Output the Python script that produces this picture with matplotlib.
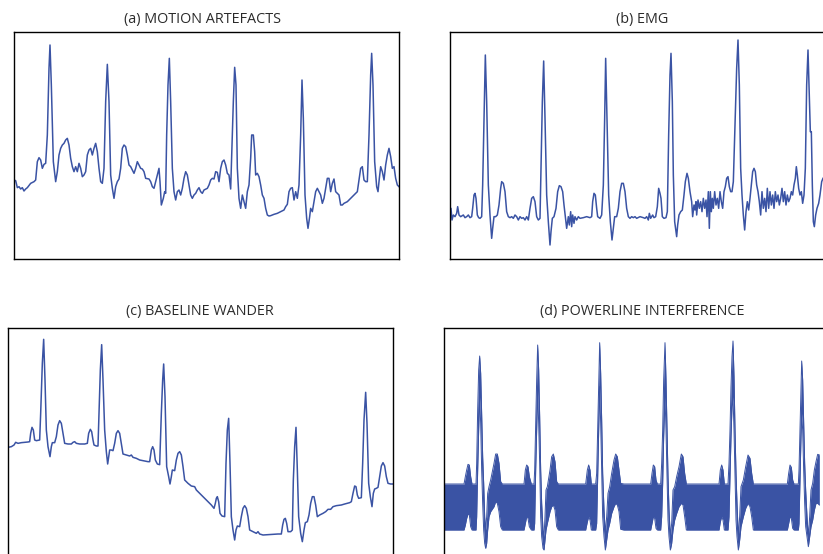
import matplotlib.pyplot as plt
import numpy as np

# traces: (sample, amplitude), arbitrary units
motion_pts = [
    (0, 237), (5, 235), (10, 214), (15, 217), (20, 210), (25, 214), (30, 204), (35, 210), (40, 214),
    (50, 227), (60, 232), (65, 237), (70, 292), (75, 304), (80, 297), (85, 272), (90, 284), (95, 287),
    (100, 372), (105, 572), (108, 642), (112, 522), (118, 292), (125, 232), (130, 262), (135, 312),
    (140, 332), (145, 342), (150, 347), (155, 357), (160, 362), (165, 342), (170, 302), (175, 277),
    (180, 262), (185, 277), (190, 262), (195, 287), (200, 272), (205, 247), (210, 252), (215, 262),
    (220, 312), (225, 327), (230, 332), (235, 312), (240, 332), (245, 347), (250, 322), (255, 272),
    (260, 232), (265, 227), (270, 272), (275, 472), (280, 584), (285, 472), (290, 252), (295, 212),
    (300, 182), (305, 217), (310, 232), (315, 240), (320, 272), (325, 332), (330, 342), (335, 337),
    (340, 312), (345, 282), (350, 277), (355, 267), (360, 257), (365, 272), (370, 292), (375, 282),
    (380, 272), (385, 270), (390, 262), (395, 242), (405, 240), (410, 232), (415, 217), (420, 212),
    (425, 232), (430, 252), (435, 272), (438, 232), (442, 162), (448, 182), (452, 202), (455, 197),
    (458, 372), (462, 522), (466, 602), (470, 472), (475, 272), (480, 202), (485, 177), (490, 202),
    (495, 207), (500, 192), (505, 212), (510, 242), (515, 262), (520, 252), (525, 222), (530, 192),
    (535, 182), (540, 192), (545, 197), (550, 207), (555, 214), (560, 202), (565, 197), (570, 207),
    (580, 212), (585, 222), (590, 237), (595, 242), (600, 240), (605, 262), (610, 260), (615, 232),
    (620, 272), (625, 292), (630, 297), (635, 282), (640, 257), (645, 252), (650, 210), (655, 372),
    (658, 472), (662, 575), (666, 522), (670, 272), (675, 182), (680, 152), (685, 192), (690, 172),
    (695, 152), (700, 202), (705, 222), (710, 302), (713, 372), (718, 372), (722, 322), (725, 252),
    (730, 257), (735, 247), (740, 222), (745, 192), (750, 182), (755, 152), (760, 132), (765, 129),
    (770, 130), (780, 134), (790, 137), (800, 142), (810, 147), (815, 157), (820, 164), (825, 202),
    (830, 212), (835, 214), (840, 177), (845, 202), (850, 182), (855, 222), (860, 372), (864, 537),
    (868, 422), (873, 192), (878, 122), (882, 92), (887, 127), (890, 152), (895, 142), (900, 172),
    (905, 202), (910, 212), (915, 202), (920, 192), (925, 167), (930, 182), (935, 212), (940, 242),
    (945, 242), (950, 202), (955, 227), (960, 240), (965, 202), (970, 197), (975, 192), (980, 162),
    (985, 162), (990, 167), (1000, 172), (1010, 182), (1020, 192), (1030, 202), (1035, 237),
    (1040, 272), (1045, 277), (1050, 237), (1055, 232), (1060, 232), (1065, 372), (1070, 552),
    (1073, 617), (1077, 522), (1082, 292), (1088, 217), (1092, 202), (1096, 242), (1100, 277),
    (1105, 262), (1110, 237), (1115, 282), (1120, 312), (1125, 332), (1130, 307), (1135, 272),
    (1140, 277), (1145, 242), (1150, 222), (1155, 217),
]

emg_pts = [
    (0, 132), (3, 152), (6, 117), (10, 132), (15, 127), (20, 137), (23, 157), (27, 132), (32, 127),
    (40, 132), (45, 124), (50, 127), (55, 132), (60, 124), (65, 127), (68, 152), (72, 192), (75, 197),
    (78, 182), (82, 132), (86, 124), (90, 122), (95, 127), (98, 222), (102, 422), (106, 612),
    (110, 472), (115, 222), (120, 132), (125, 62), (128, 92), (132, 127), (137, 127), (142, 132),
    (147, 162), (152, 212), (155, 232), (160, 227), (165, 202), (170, 142), (175, 127), (180, 124),
    (185, 127), (190, 122), (195, 132), (200, 127), (205, 117), (210, 127), (215, 122), (220, 124),
    (225, 117), (230, 127), (235, 117), (240, 152), (245, 182), (250, 187), (255, 172), (260, 127),
    (265, 117), (270, 122), (273, 272), (277, 472), (281, 594), (285, 422), (290, 192), (295, 112),
    (300, 42), (303, 82), (307, 122), (312, 127), (318, 152), (323, 202), (328, 220), (333, 217),
    (338, 202), (342, 162), (347, 117), (350, 92), (355, 127), (358, 102), (362, 142), (365, 97),
    (368, 132), (372, 107), (375, 127), (380, 117), (385, 127), (390, 122), (400, 124), (410, 127),
    (420, 124), (425, 127), (428, 172), (432, 197), (436, 192), (440, 152), (443, 127), (450, 122),
    (455, 132), (460, 222), (464, 422), (467, 602), (471, 422), (476, 192), (481, 112), (486, 57),
    (490, 92), (494, 127), (500, 127), (505, 152), (510, 202), (515, 227), (520, 227), (525, 202),
    (530, 152), (535, 127), (540, 122), (545, 127), (550, 124), (555, 127), (560, 122), (570, 127),
    (580, 124), (585, 122), (590, 127), (595, 117), (598, 137), (602, 122), (608, 132), (612, 124),
    (617, 127), (622, 157), (626, 212), (630, 197), (633, 182), (637, 127), (642, 122), (648, 124),
    (652, 142), (656, 372), (660, 552), (663, 617), (667, 472), (670, 252), (674, 112), (680, 67),
    (683, 102), (687, 132), (692, 142), (697, 147), (702, 192), (706, 232), (711, 257), (715, 242),
    (720, 202), (725, 172), (728, 127), (732, 162), (735, 147), (738, 172), (740, 132), (744, 177),
    (748, 152), (752, 172), (756, 142), (760, 182), (764, 152), (768, 177), (771, 127), (775, 202),
    (778, 92), (781, 202), (784, 142), (787, 182), (790, 152), (794, 202), (798, 162), (802, 182),
    (806, 152), (810, 202), (814, 172), (818, 152), (822, 202), (826, 217), (830, 242), (834, 247),
    (838, 217), (842, 202), (846, 202), (850, 232), (854, 372), (860, 572), (864, 657), (868, 522),
    (872, 272), (876, 192), (880, 132), (884, 87), (888, 142), (892, 172), (896, 147), (900, 182),
    (904, 222), (908, 262), (912, 272), (916, 262), (920, 222), (924, 202), (928, 172), (932, 132),
    (936, 202), (940, 152), (944, 182), (948, 142), (952, 212), (956, 152), (960, 202), (964, 162),
    (968, 192), (972, 152), (976, 202), (980, 172), (984, 192), (988, 162), (992, 182), (996, 212),
    (1000, 172), (1004, 202), (1008, 162), (1012, 192), (1016, 172), (1020, 182), (1024, 202),
    (1028, 192), (1032, 222), (1036, 242), (1039, 277), (1042, 252), (1046, 212), (1050, 192),
    (1054, 202), (1058, 167), (1062, 192), (1066, 272), (1070, 522), (1074, 627), (1077, 522),
    (1081, 382), (1084, 382), (1087, 222), (1090, 112), (1093, 97), (1097, 132), (1101, 152),
    (1106, 167), (1110, 192), (1115, 232), (1119, 242),
]

wander_pts = [
    (0, 323), (10, 325), (18, 330), (23, 338), (30, 335), (40, 337), (50, 338), (60, 339), (65, 340),
    (68, 365), (72, 383), (76, 375), (80, 345), (85, 343), (95, 345), (98, 425), (103, 575), (107, 647),
    (111, 525), (115, 375), (120, 325), (126, 295), (130, 325), (133, 337), (140, 337), (145, 355),
    (150, 390), (155, 403), (160, 395), (165, 365), (170, 335), (180, 333), (190, 333), (195, 338),
    (200, 340), (205, 335), (215, 333), (230, 333), (238, 335), (242, 365), (247, 377), (251, 370),
    (255, 345), (258, 330), (265, 327), (270, 327), (273, 425), (277, 555), (281, 631), (285, 525),
    (290, 375), (295, 310), (299, 273), (302, 295), (305, 315), (310, 315), (315, 313), (320, 335),
    (325, 365), (330, 373), (335, 365), (340, 335), (345, 303), (355, 300), (365, 297), (370, 300),
    (375, 293), (385, 290), (395, 285), (410, 282), (420, 280), (425, 280), (430, 315), (434, 325),
    (438, 315), (442, 285), (448, 273), (455, 271), (460, 425), (464, 525), (467, 573), (471, 475),
    (476, 265), (482, 235), (486, 213), (490, 235), (493, 255), (500, 253), (505, 285), (510, 305),
    (515, 310), (520, 300), (525, 265), (530, 225), (540, 215), (550, 207), (560, 205), (565, 195),
    (575, 185), (580, 180), (590, 170), (600, 160), (610, 150), (618, 140), (622, 155), (625, 170),
    (628, 175), (632, 160), (636, 125), (642, 117), (650, 115), (654, 275), (658, 375), (662, 410),
    (666, 275), (670, 115), (675, 75), (680, 45), (684, 75), (688, 87), (695, 85), (700, 115),
    (705, 140), (710, 148), (715, 140), (720, 115), (725, 75), (735, 70), (745, 65), (750, 70),
    (755, 63), (765, 60), (780, 61), (795, 62), (810, 63), (820, 63), (824, 90), (828, 107),
    (832, 110), (836, 95), (840, 70), (848, 70), (853, 75), (856, 225), (860, 325), (864, 383),
    (868, 255), (872, 115), (878, 65), (883, 40), (888, 75), (892, 97), (898, 100), (903, 120),
    (908, 155), (913, 175), (918, 175), (923, 150), (928, 115), (935, 120), (945, 125), (953, 130),
    (960, 137), (968, 137), (975, 145), (985, 148), (1000, 150), (1010, 153), (1025, 157),
    (1030, 160), (1035, 185), (1040, 207), (1044, 205), (1048, 180), (1052, 170), (1060, 172),
    (1064, 275), (1068, 405), (1073, 488), (1077, 395), (1082, 215), (1087, 175), (1092, 145),
    (1096, 185), (1100, 198), (1105, 200), (1110, 203), (1115, 235), (1120, 267), (1125, 277),
    (1130, 267), (1135, 235), (1140, 215), (1148, 213), (1155, 213),
]

# powerline: the 50 Hz hum fills a band, so keep its (sample, upper, lower) envelope
powerline_pts = [
    (0, 213, 75), (60, 213, 75), (64, 235, 90), (68, 255, 110), (72, 272, 123), (76, 270, 120),
    (80, 235, 85), (84, 213, 75), (96, 213, 75), (98, 275, 115), (101, 435, 255), (104, 555, 375),
    (107, 597, 475), (110, 545, 395), (113, 425, 255), (116, 295, 155), (119, 215, 75), (122, 115, 35),
    (125, 75, 20), (128, 115, 35), (131, 185, 75), (135, 205, 115), (140, 225, 130), (150, 275, 145),
    (155, 303, 160), (160, 303, 155), (165, 275, 130), (170, 220, 85), (175, 213, 75), (240, 213, 75),
    (244, 255, 95), (248, 270, 115), (252, 265, 110), (256, 235, 85), (262, 213, 75), (270, 213, 75),
    (272, 255, 95), (275, 395, 255), (278, 525, 375), (281, 630, 495), (284, 555, 395), (287, 415, 275),
    (290, 255, 115), (293, 155, 55), (297, 75, 20), (300, 55, 15), (303, 115, 45), (306, 195, 75),
    (310, 205, 95), (318, 255, 130), (323, 295, 145), (328, 303, 150), (333, 280, 135), (338, 220, 85),
    (343, 213, 75), (425, 213, 75), (430, 255, 100), (434, 270, 115), (438, 255, 105), (442, 213, 75),
    (455, 213, 75), (458, 245, 95), (461, 375, 235), (464, 515, 375), (467, 637, 505), (470, 545, 395),
    (473, 405, 255), (476, 245, 115), (480, 135, 55), (484, 65, 15), (488, 115, 45), (492, 185, 75),
    (497, 205, 95), (503, 245, 125), (510, 285, 145), (515, 303, 155), (520, 295, 150), (525, 255, 130),
    (530, 215, 77), (540, 213, 75), (620, 213, 75), (624, 245, 95), (628, 270, 115), (632, 265, 110),
    (636, 225, 80), (640, 213, 75), (650, 213, 75), (653, 275, 115), (656, 375, 215), (659, 525, 355),
    (663, 637, 475), (666, 525, 375), (669, 375, 235), (672, 235, 105), (675, 135, 55), (679, 55, 15),
    (683, 95, 35), (687, 195, 75), (692, 205, 105), (698, 235, 125), (705, 265, 145), (712, 303, 155),
    (717, 295, 150), (722, 245, 115), (727, 213, 75), (825, 213, 75), (829, 255, 100), (833, 270, 115),
    (837, 255, 105), (841, 213, 75), (852, 213, 75), (855, 275, 115), (858, 375, 235), (861, 505, 355),
    (864, 595, 445), (867, 642, 475), (870, 535, 375), (873, 375, 235), (876, 245, 105), (879, 155, 55),
    (883, 55, 15), (887, 115, 45), (891, 205, 85), (898, 225, 115), (905, 265, 140), (912, 300, 155),
    (918, 290, 145), (923, 245, 115), (928, 213, 75), (1030, 213, 75), (1034, 245, 95), (1038, 270, 115),
    (1042, 263, 110), (1046, 225, 80), (1050, 213, 75), (1063, 213, 75), (1065, 255, 95), (1068, 375, 225),
    (1071, 505, 355), (1073, 582, 425), (1076, 525, 375), (1079, 395, 255), (1082, 275, 155),
    (1085, 195, 85), (1089, 115, 55), (1093, 55, 25), (1097, 115, 55), (1101, 195, 85), (1106, 215, 105),
    (1111, 255, 135), (1116, 280, 155), (1121, 302, 155), (1126, 300, 150),
]

titles = ['(a) MOTION ARTEFACTS', '(b) EMG', '(c) BASELINE WANDER', '(d) POWERLINE INTERFERENCE']

line_color = '#3a53a4'
W, H = 823, 554

fig = plt.figure(figsize=(W / 100, H / 100), dpi=100)

# axes boxes in pixels: left, top, width, height (b and d run past the right edge)
boxes = [(14, 32, 385, 227), (450, 32, 384, 227), (8, 328, 385, 227), (444, 328, 384, 227)]
title_pos = [(203, 22.7), (641.7, 22.7), (199.5, 315.5), (641.8, 315.5)]

axes = []
for (l, t, w, h) in boxes:
    ax = fig.add_axes([l / W, (H - t - h) / H, w / W, h / H])
    ax.set_xlim(0, w * 3)
    ax.set_ylim(0, h * 3)
    ax.set_xticks([])
    ax.set_yticks([])
    for s in ax.spines.values():
        s.set_linewidth(1.0)
        s.set_color('black')
    axes.append(ax)

for ax, pts in zip([axes[0], axes[1], axes[2]], [motion_pts, emg_pts, wander_pts]):
    x, y = zip(*pts)
    ax.plot(x, y, color=line_color, lw=1.1)

px, pu, pl = (np.array(v) for v in zip(*powerline_pts))
axes[3].fill_between(px, pl, pu, color=line_color, lw=0)
axes[3].plot(px, pu, color=line_color, lw=0.7)
axes[3].plot(px, pl, color=line_color, lw=0.7)

for label, (tx, ty) in zip(titles, title_pos):
    fig.text(tx / W, 1 - ty / H, label, ha='center', va='baseline',
             fontsize=10.4, color='#2b2b2b', family='Open Sans')

fig.savefig('out.png', dpi=100)
